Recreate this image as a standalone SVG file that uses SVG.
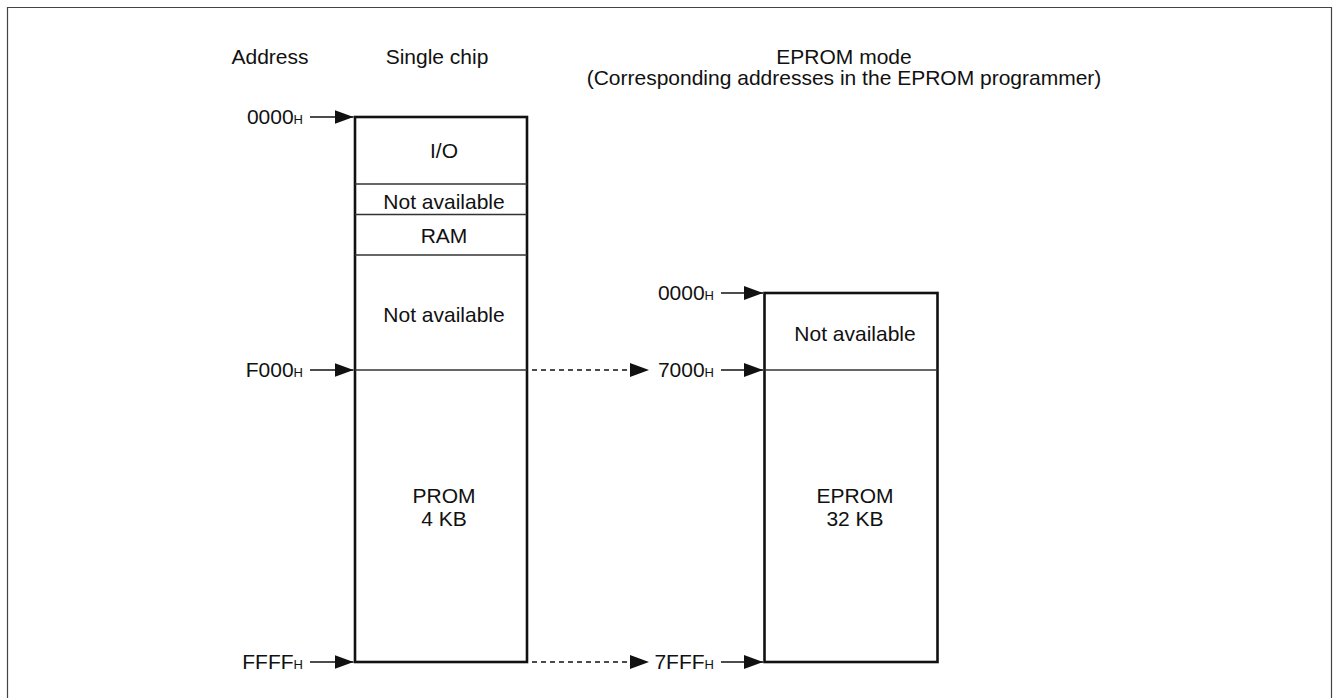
<svg xmlns="http://www.w3.org/2000/svg" width="1336" height="698" viewBox="0 0 1336 698">
<style>
text{font-family:"Liberation Sans",Arial,sans-serif;font-size:21px;fill:#111}
.c{text-anchor:middle}
.e{text-anchor:end}
.sub{font-size:13px}
.box{fill:#fff;stroke:#111;stroke-width:2.6}
.div{stroke:#333;stroke-width:1.5}
.arr{stroke:#111;stroke-width:1.5;fill:none;marker-end:url(#ah)}
.dash{stroke-dasharray:5 4}
</style>
<defs>
<marker id="ah" markerUnits="userSpaceOnUse" markerWidth="20" markerHeight="14" refX="19" refY="7" orient="auto">
<path d="M0,0 L19,7 L0,14 z" fill="#111"/>
</marker>
</defs>
<rect width="1336" height="698" fill="#fff"/>
<path d="M7.5,700 V7.5 H1331.5 V700" fill="none" stroke="#444" stroke-width="1.2"/>
<g id="headers">
<text class="c" x="270" y="64">Address</text>
<text class="c" x="437" y="64">Single chip</text>
<text class="c" x="844" y="64">EPROM mode</text>
<text class="c" x="844" y="84.5">(Corresponding addresses in the EPROM programmer)</text>
</g>
<g id="single-chip">
<rect class="box" x="355" y="117" width="172" height="545"/>
<line class="div" x1="355" y1="184" x2="527" y2="184"/>
<line class="div" x1="355" y1="214.5" x2="527" y2="214.5"/>
<line class="div" x1="355" y1="255" x2="527" y2="255"/>
<line class="div" x1="355" y1="370" x2="527" y2="370"/>
<text class="c" x="444" y="158">I/O</text>
<text class="c" x="444" y="208.5">Not available</text>
<text class="c" x="444" y="243">RAM</text>
<text class="c" x="444" y="321.5">Not available</text>
<text class="c" x="444" y="502.5">PROM</text>
<text class="c" x="444" y="525.5">4 KB</text>
</g>
<g id="eprom">
<rect class="box" x="764.5" y="293" width="173" height="369"/>
<line class="div" x1="764.5" y1="370" x2="937.5" y2="370"/>
<text class="c" x="855" y="341">Not available</text>
<text class="c" x="855" y="502.5">EPROM</text>
<text class="c" x="855" y="525.5">32 KB</text>
</g>
<g id="labels">
<text class="e" x="303" y="124">0000<tspan class="sub">H</tspan></text>
<text class="e" x="303" y="377">F000<tspan class="sub">H</tspan></text>
<text class="e" x="303" y="669">FFFF<tspan class="sub">H</tspan></text>
<text class="e" x="714" y="300">0000<tspan class="sub">H</tspan></text>
<text class="e" x="714" y="377">7000<tspan class="sub">H</tspan></text>
<text class="e" x="714" y="669">7FFF<tspan class="sub">H</tspan></text>
</g>
<g id="connectors">
<line class="arr" x1="310" y1="117" x2="353.5" y2="117"/>
<line class="arr" x1="310" y1="370" x2="353.5" y2="370"/>
<line class="arr" x1="310" y1="662" x2="353.5" y2="662"/>
<line class="arr dash" x1="532" y1="370" x2="649" y2="370"/>
<line class="arr dash" x1="532" y1="662" x2="649" y2="662"/>
<line class="arr" x1="721" y1="293" x2="763" y2="293"/>
<line class="arr" x1="721" y1="370" x2="763" y2="370"/>
<line class="arr" x1="721" y1="662" x2="763" y2="662"/>
</g>
</svg>
